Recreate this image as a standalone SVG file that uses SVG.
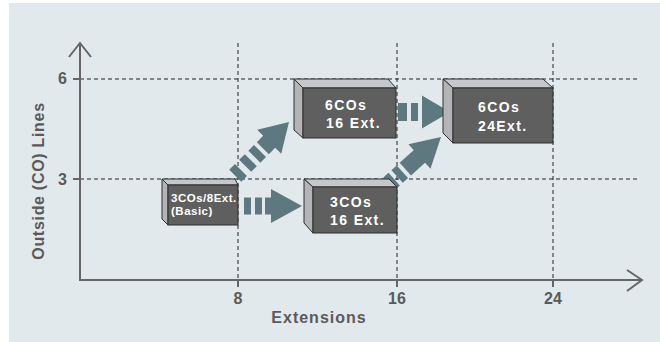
<svg xmlns="http://www.w3.org/2000/svg" width="660" height="342" viewBox="0 0 660 342">
<style>
.grid{stroke:#222;stroke-width:1;stroke-dasharray:4 3;fill:none}
.axis{stroke:#666;stroke-width:2;fill:none}
.lbl{font-family:"Liberation Sans",Arial,sans-serif;font-weight:bold;fill:#5a5a5a}
.front{fill:#5f5f5f;stroke:#2e2e2e;stroke-width:1}
.top{fill:#c6c7cb;stroke:#2e2e2e;stroke-width:1}
.side{fill:#b3b4b8;stroke:#2e2e2e;stroke-width:1}
.bt{font-family:"Liberation Sans",Arial,sans-serif;font-weight:bold;fill:#ffffff;font-size:14px;letter-spacing:1.4px}
.bs{font-size:11.5px;letter-spacing:0.5px}
.arr{fill:#5e7880}
</style>
<rect x="9" y="3" width="651" height="339" fill="#e2e9ec"/>
<g id="grid">
<path class="grid" d="M80 79H640M80 179H640M238 43V280M397 43V280M553 43V280"/>
</g>
<g id="axes">
<path class="axis" d="M80 43V280H642"/>
<path class="axis" d="M69 57L80 43L91 57M627 270L642 280L627 291"/>
<path class="axis" d="M73 79H80M73 179H80M238 280V287M397 280V287M553 280V287"/>
<text class="lbl" x="67" y="84" font-size="16" text-anchor="end">6</text>
<text class="lbl" x="67" y="185" font-size="16" text-anchor="end">3</text>
<text class="lbl" x="238" y="304" font-size="16" text-anchor="middle">8</text>
<text class="lbl" x="397" y="304" font-size="16" text-anchor="middle">16</text>
<text class="lbl" x="553" y="304" font-size="16" text-anchor="middle">24</text>
<text class="lbl" x="319" y="323" font-size="16" letter-spacing="1" text-anchor="middle">Extensions</text>
<text class="lbl" transform="translate(44 181) rotate(-90)" font-size="16" letter-spacing="0.7" text-anchor="middle">Outside (CO) Lines</text>
</g>
<g id="connectors">
<g class="arr" transform="translate(302 206)">
<rect x="-58" y="-8.5" width="7" height="17"/><rect x="-47" y="-8.5" width="7" height="17"/><rect x="-37" y="-8.5" width="6" height="17"/>
<polygon points="0,0 -31,-17 -31,17"/>
</g>
<g class="arr" transform="translate(450 112)">
<rect x="-52" y="-9" width="9" height="18"/><rect x="-39" y="-9" width="7" height="18"/>
<polygon points="0,0 -28,-16.5 -28,16.5"/>
</g>
<g class="arr" transform="translate(289 122) rotate(-45)">
<rect x="-76" y="-8.5" width="8" height="17"/><rect x="-62" y="-8.5" width="8" height="17"/><rect x="-49" y="-8.5" width="8" height="17"/><rect x="-37" y="-8.5" width="10" height="17"/>
<polygon points="0,0 -28,-17 -28,17"/>
</g>
<g class="arr" transform="translate(441 137) rotate(-42)">
<rect x="-70" y="-8.5" width="7" height="17"/><rect x="-59" y="-8.5" width="7" height="17"/><rect x="-48" y="-8.5" width="20" height="17"/>
<polygon points="0,0 -29,-16.5 -29,16.5"/>
</g>
</g>
<g id="node-basic">
<polygon class="top" points="162,179 235,179 238,185 168,185"/>
<polygon class="side" points="162,179 168,185 168,225 162,219"/>
<rect class="front" x="168" y="185" width="70" height="40"/>
<text class="bt bs" x="171" y="202">3COs/8Ext.</text>
<text class="bt bs" x="171" y="215">(Basic)</text>
</g>
<g id="node-6co16">
<polygon class="top" points="294,79 388,79 396,88 303,88"/>
<polygon class="side" points="294,79 303,88 303,138 294,130"/>
<rect class="front" x="303" y="88" width="93" height="50"/>
<text class="bt" x="325" y="110">6COs</text>
<text class="bt" x="326" y="128">16 Ext.</text>
</g>
<g id="node-6co24">
<polygon class="top" points="443,79 543,79 553,88 453,88"/>
<polygon class="side" points="443,79 453,88 453,143 443,133"/>
<rect class="front" x="453" y="88" width="100" height="55"/>
<text class="bt" x="478" y="112">6COs</text>
<text class="bt" x="478" y="131">24Ext.</text>
</g>
<g id="node-3co16">
<polygon class="top" points="304,179 389,179 397,187 313,187"/>
<polygon class="side" points="304,179 313,187 313,233 304,223"/>
<rect class="front" x="313" y="187" width="84" height="46"/>
<text class="bt" x="330" y="207">3COs</text>
<text class="bt" x="330" y="225">16 Ext.</text>
</g>
</svg>
